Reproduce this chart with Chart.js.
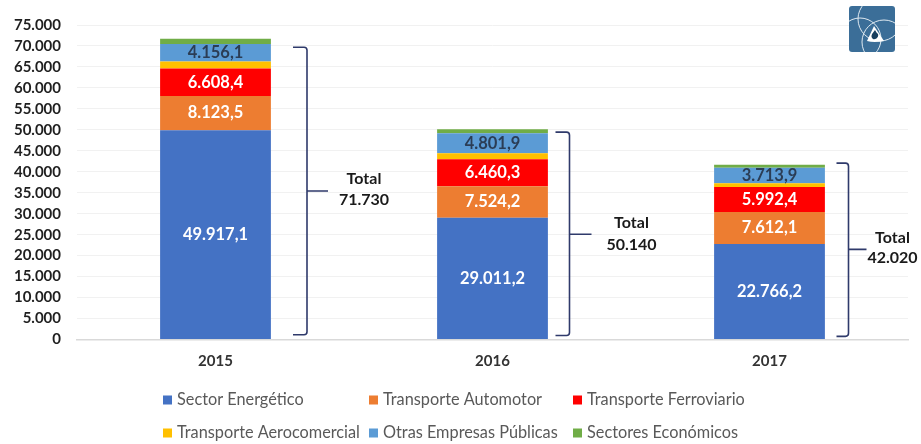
<!DOCTYPE html>
<html><head><meta charset="utf-8">
<style>html,body{margin:0;padding:0;background:#fff;overflow:hidden}
#wrap{position:relative;width:921px;height:444px}
#logo{position:absolute;left:849px;top:6px;width:46px;height:46px}</style>
<script src="https://cdn.jsdelivr.net/npm/chart.js@4"></script></head>
<body><div id="wrap"><canvas id="c" width="921" height="444"></canvas>
<svg id="logo" viewBox="0 0 46 46"><defs><clipPath id="r"><rect width="46" height="46" rx="3"/></clipPath></defs>
<g clip-path="url(#r)"><rect width="46" height="46" fill="#3b6e98"/>
<g fill="none" stroke="#dfe9f0" stroke-width="1"><circle cx="31" cy="13" r="22"/><circle cx="11" cy="33" r="21"/><circle cx="35" cy="36" r="22"/></g>
<path d="M25 20 L35 35 Q25 37 18 35 Z" fill="#fff"/><path d="M26 24 C23 28 21 30 24 33 C27 34 30 31 29 28 C28 27 27 26 26 24 Z" fill="#173f5f"/></g></svg></div>
<script>
const categories = ['2015', '2016', '2017'];
const sectorEnergetico = [49917.1, 29011.2, 22766.2];
const transporteAutomotor = [8123.5, 7524.2, 7612.1];
const transporteFerroviario = [6608.4, 6460.3, 5992.4];
const transporteAerocomercial = [1650, 1400, 900];
const otrasEmpresas = [4156.1, 4801.9, 3713.9];
const sectoresEconomicos = [1275, 942, 700];
const totals = ['71.730', '50.140', '42.020'];
const bracketTop = [69700, 49450, 42050];
const bracketBottom = [1150, 950, 750];
const bracketTip = [35400, 25100, 21500];
const yTicks = [0,5000,10000,15000,20000,25000,30000,35000,40000,45000,50000,55000,60000,65000,70000,75000];

const FONT = 'Lato, Carlito, sans-serif';
const es = v => v.toLocaleString('es-ES', {minimumFractionDigits:1, maximumFractionDigits:1, useGrouping:'always'});
const esInt = v => v.toLocaleString('es-ES', {useGrouping:'always'});

const datasets = [
 {label:'Sector Energético', data:sectorEnergetico, backgroundColor:'#4472c4', labelColor:'#fff'},
 {label:'Transporte Automotor', data:transporteAutomotor, backgroundColor:'#ed7d31', labelColor:'#fff'},
 {label:'Transporte Ferroviario', data:transporteFerroviario, backgroundColor:'#ff0000', labelColor:'#fff'},
 {label:'Transporte Aerocomercial', data:transporteAerocomercial, backgroundColor:'#ffc000'},
 {label:'Otras Empresas Públicas', data:otrasEmpresas, backgroundColor:'#5b9bd5', labelColor:'#2b3d55'},
 {label:'Sectores Económicos', data:sectoresEconomicos, backgroundColor:'#70ad47'}
];

const bracketLayout = [
 {vx:91.5, arm:14, tip:21, tx:148.5, ty1:-12, ty2:9},
 {vx:77, arm:14, tip:22, tx:139, ty1:-11, ty2:11},
 {vx:79, arm:12, tip:18, tx:123, ty1:-11, ty2:9}
];
const legendSlots = [[163,400],[369,400],[573,400],[163,433],[369,433],[573,433]];

const annotations = {
 id:'annotations',
 afterDatasetsDraw(chart){
  const {ctx, scales:{x,y}} = chart;
  ctx.save();
  ctx.textAlign='center'; ctx.textBaseline='middle';
  ctx.font = '700 16.5px '+FONT;
  chart.data.datasets.forEach((ds,i)=>{
    if(!ds.labelColor) return;
    chart.getDatasetMeta(i).data.forEach((bar,j)=>{
      ctx.fillStyle = ds.labelColor;
      ctx.fillText(es(ds.data[j]), bar.x, (bar.y+bar.base)/2);
    });
  });
  categories.forEach((c,i)=>{
    const L = bracketLayout[i], cx = x.getPixelForValue(i);
    const top=y.getPixelForValue(bracketTop[i]), bot=y.getPixelForValue(bracketBottom[i]), tip=y.getPixelForValue(bracketTip[i]);
    const vx=cx+L.vx, r=3;
    ctx.strokeStyle='#2f3a6b'; ctx.lineWidth=1.6; ctx.beginPath();
    ctx.moveTo(vx-L.arm,top); ctx.lineTo(vx-r,top); ctx.quadraticCurveTo(vx,top,vx,top+r);
    ctx.lineTo(vx,bot-r); ctx.quadraticCurveTo(vx,bot,vx-r,bot); ctx.lineTo(vx-L.arm,bot);
    ctx.moveTo(vx,tip); ctx.lineTo(vx+L.tip,tip);
    ctx.stroke();
    ctx.fillStyle='#1a1a1a'; ctx.font='700 16px '+FONT;
    ctx.fillText('Total', cx+L.tx, tip+L.ty1);
    ctx.fillText(totals[i], cx+L.tx, tip+L.ty2);
  });
  ctx.textAlign='left'; ctx.font='400 16.3px '+FONT;
  chart.data.datasets.forEach((ds,i)=>{
    const [lx,ly]=legendSlots[i];
    ctx.fillStyle=ds.backgroundColor; ctx.fillRect(lx,ly-4.5,9,9);
    ctx.fillStyle='#595959'; ctx.fillText(ds.label,lx+14,ly);
  });
  ctx.restore();
 }
};

new Chart(document.getElementById('c'),{
 type:'bar',
 data:{labels:categories,datasets},
 plugins:[annotations],
 options:{
  responsive:false, animation:false,
  layout:{padding:{left:0,right:13,top:24,bottom:60.5}},
  plugins:{legend:{display:false},tooltip:{enabled:false}},
  scales:{
   x:{stacked:true,categoryPercentage:1,
      grid:{display:false,drawTicks:false},
      border:{color:'#d9d9d9',width:1.5},
      ticks:{color:'#333',font:{family:FONT,size:15,weight:'700'},padding:13}},
   y:{stacked:true,min:0,max:75000,
      afterBuildTicks(s){s.ticks=yTicks.map(v=>({value:v}));},
      afterFit(s){s.width=77;},
      grid:{color:'#f1f1f1',drawTicks:false,lineWidth:1},
      border:{display:false},
      ticks:{color:'#1f1f1f',font:{family:FONT,size:15,weight:'700'},padding:16,autoSkip:false,callback:v=>esInt(v)}}
  },
  datasets:{bar:{barPercentage:0.4,categoryPercentage:1}}
 }
});
</script></body></html>
